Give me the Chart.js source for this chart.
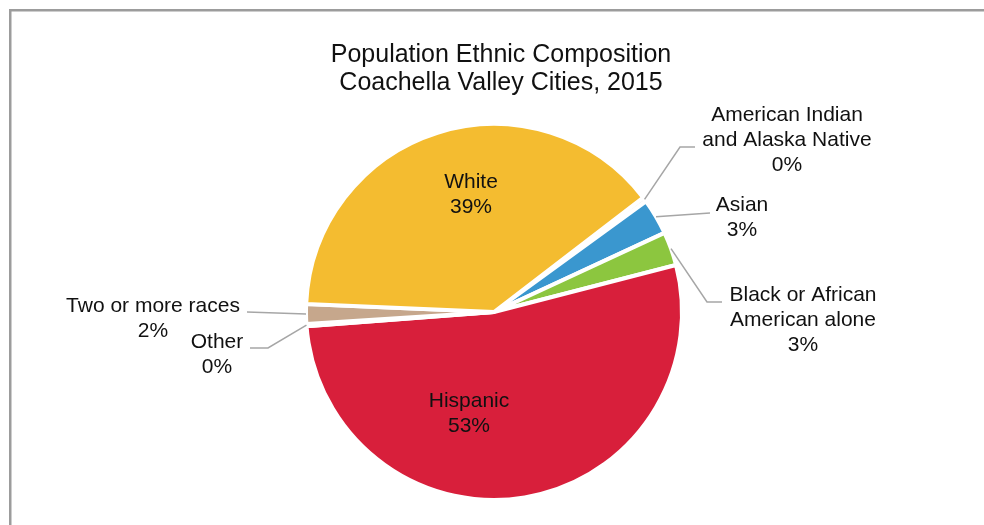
<!DOCTYPE html>
<html>
<head>
<meta charset="utf-8">
<title>Population Ethnic Composition - Coachella Valley Cities, 2015</title>
<script src="https://cdn.jsdelivr.net/npm/chart.js@4.4.1/dist/chart.umd.min.js"></script>
<style>
  html, body { margin: 0; padding: 0; background: #ffffff; }
  #wrap { position: relative; width: 984px; height: 525px; }
  canvas { display: block; }
</style>
</head>
<body>
<div id="wrap"><canvas id="pie" width="984" height="525"></canvas></div>
<script>
// Population share by ethnic group, percent of total (2015)
const categories = [
  'American Indian and Alaska Native',
  'Asian',
  'Black or African American alone',
  'Hispanic',
  'Other',
  'Two or more races',
  'White'
];
const shares = [0.4, 3.1, 2.9, 52.8, 0.2, 1.7, 38.9];

// Label text, split the way it wraps beside each slice
const labelLines = [
  ['American Indian', 'and Alaska Native'],
  ['Asian'],
  ['Black or African', 'American alone'],
  ['Hispanic'],
  ['Other'],
  ['Two or more races'],
  ['White']
];

const sliceColors = ['#eeeeee', '#3a97cf', '#8cc63f', '#d81f3b', '#eeeeee', '#c6a78c', '#f4bc30'];

const titleLines = ['Population Ethnic Composition', 'Coachella Valley Cities, 2015'];

// Where each label sits relative to the pie centre, and the bends of its leader line
const labelLayout = [
  { dx: 293, dy: -191, leader: [[186, -165], [201, -165]] },
  { dx: 248, dy: -101, leader: [[216, -99]] },
  { dx: 309, dy: -11,  leader: [[213, -10], [228, -10]] },
  { dx: -25, dy: 95,   leader: null },
  { dx: -277, dy: 36,  leader: [[-226, 36], [-244, 36]] },
  { dx: -341, dy: 0,   leader: [[-247, 0]] },
  { dx: -23, dy: -124, leader: null }
];

const FONT = '"Liberation Sans", Arial, Helvetica, sans-serif';
const LINE_H = 25;
const INK = '#111111';

const total = shares.reduce((a, b) => a + b, 0);
const pct = v => Math.round(v / total * 100) + '%';

// Grey frame on the top and left edges
const framePlugin = {
  id: 'frame',
  beforeDraw(chart) {
    const ctx = chart.ctx;
    ctx.save();
    ctx.fillStyle = '#ffffff';
    ctx.fillRect(0, 0, chart.width, chart.height);
    ctx.fillStyle = '#9c9c9c';
    ctx.fillRect(9, 9, chart.width - 9, 2.5);
    ctx.fillRect(9, 9, 2.5, chart.height - 9);
    ctx.restore();
  }
};

// Two-line heading
const headingPlugin = {
  id: 'heading',
  afterDraw(chart) {
    const ctx = chart.ctx;
    ctx.save();
    ctx.fillStyle = INK;
    ctx.font = '25px ' + FONT;
    ctx.textAlign = 'center';
    ctx.textBaseline = 'alphabetic';
    titleLines.forEach((t, i) => ctx.fillText(t, 501, 62 + i * 28));
    ctx.restore();
  }
};

// Category + percentage labels with leader lines from the slice rims
const sliceLabelPlugin = {
  id: 'sliceLabels',
  afterDatasetsDraw(chart) {
    const ctx = chart.ctx;
    const meta = chart.getDatasetMeta(0);
    ctx.save();
    meta.data.forEach((arc, i) => {
      const p = arc.getProps(['x', 'y', 'startAngle', 'endAngle', 'outerRadius'], true);
      const lay = labelLayout[i];
      if (lay.leader) {
        const mid = (p.startAngle + p.endAngle) / 2;
        ctx.beginPath();
        ctx.moveTo(p.x + Math.cos(mid) * p.outerRadius, p.y + Math.sin(mid) * p.outerRadius);
        lay.leader.forEach(pt => ctx.lineTo(p.x + pt[0], p.y + pt[1]));
        ctx.strokeStyle = '#a6a6a6';
        ctx.lineWidth = 1.5;
        ctx.stroke();
      }
      const lines = labelLines[i].concat([pct(shares[i])]);
      ctx.fillStyle = INK;
      ctx.font = '21px ' + FONT;
      ctx.textAlign = 'center';
      ctx.textBaseline = 'alphabetic';
      lines.forEach((t, k) => ctx.fillText(t, p.x + lay.dx, p.y + lay.dy + k * LINE_H));
    });
    ctx.restore();
  }
};

new Chart(document.getElementById('pie'), {
  type: 'pie',
  data: {
    labels: categories,
    datasets: [{
      data: shares,
      backgroundColor: sliceColors,
      borderColor: '#ffffff',
      borderWidth: 4,
      hoverOffset: 0
    }]
  },
  options: {
    responsive: false,
    animation: false,
    rotation: 52.5,
    radius: 188,
    layout: { padding: { left: 294, right: 290, top: 112, bottom: 13 } },
    plugins: {
      legend: { display: false },
      title: { display: false },
      tooltip: { enabled: false }
    }
  },
  plugins: [framePlugin, headingPlugin, sliceLabelPlugin]
});
</script>
</body>
</html>
